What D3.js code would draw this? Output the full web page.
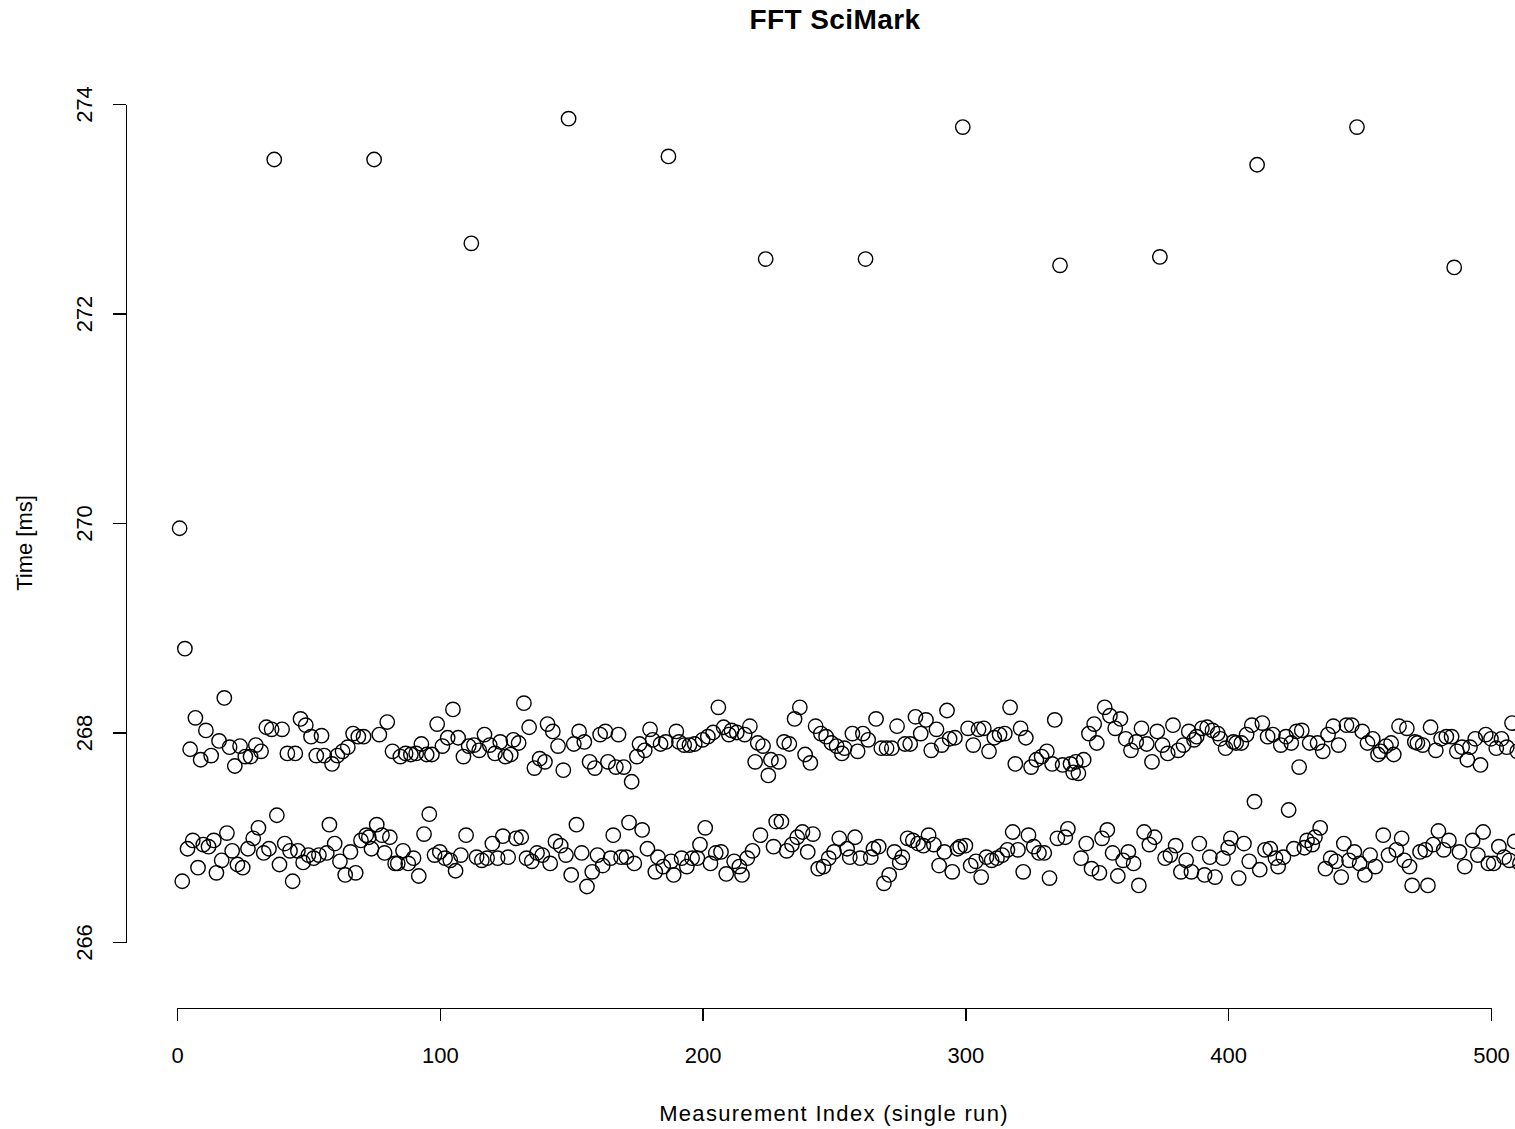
<!DOCTYPE html>
<html lang="en">
<head>
<meta charset="UTF-8">
<title>FFT SciMark</title>
<script src="https://d3js.org/d3.v7.min.js"></script>
<style>
    body {
        margin: 0;
        background: #ffffff;
        overflow: hidden;
    }

    svg text {
        font-family: "Liberation Sans", Arial, Helvetica, sans-serif;
        fill: #000;
    }

    .axis path,
    .axis line {
        stroke: #000;
        stroke-width: 1.3;
        shape-rendering: crispEdges;
    }

    .axis text {
        font-size: 22px;
    }

    .point {
        fill: none;
        stroke: #000;
        stroke-width: 1.4;
    }
</style>
</head>
<body>
<svg id="chart" width="1515" height="1129"></svg>
<script>
    // measured times [ms], one per run index (1..512)
    // written in blocks that end with the periodic spike
    const timeMs = [
        269.95, 266.58, 268.80, 266.89, 267.84, 266.97, 268.14, 266.71, 267.74, 266.93, 268.02, 266.91,
        267.78, 266.97, 266.66, 267.92, 266.78, 268.33, 267.04, 267.86, 266.87, 267.68, 266.74, 267.87,
        266.71, 267.77, 266.89, 267.77, 266.99, 267.88, 267.09, 267.82, 266.85, 268.05, 266.89, 268.03,
        273.47,
        267.21, 266.74, 268.03, 266.94, 267.80, 266.87, 266.58, 267.80, 266.87, 268.13, 266.76, 268.07,
        266.83, 267.96, 266.80, 267.78, 266.83, 267.97, 267.78, 266.85, 267.12, 267.70, 266.94, 267.78,
        266.77, 267.82, 266.64, 267.86, 266.86, 267.99, 266.66, 267.96, 266.97, 267.96, 267.02, 267.00,
        266.89,
        273.47,
        267.12, 267.98, 267.02, 266.85, 268.10, 267.00, 267.82, 266.75, 266.75, 267.77, 266.87, 267.80,
        266.75, 267.79, 266.80, 267.80, 266.63, 267.89, 267.03, 267.79, 267.22, 267.79, 266.83, 268.08,
        266.86, 267.87, 266.80, 267.95, 266.78, 268.22, 266.68, 267.95, 266.83, 267.77, 267.02, 267.87,
        272.67,
        267.88, 266.81, 267.83, 266.78, 267.98, 266.80, 267.88, 266.94, 267.80, 266.80, 267.91, 267.01,
        267.77, 266.81, 267.79, 267.93, 266.99, 267.90, 267.00, 268.28, 266.80, 268.05, 266.77, 267.66,
        266.85, 267.75, 266.83, 267.72, 268.08, 266.75, 268.01, 266.96, 267.87, 266.92, 267.64, 266.83,
        273.86,
        266.64, 267.89, 267.12, 268.01, 266.85, 267.91, 266.53, 267.72, 266.67, 267.66, 266.83, 267.98,
        266.73, 268.01, 267.72, 266.80, 267.02, 267.67, 267.98, 266.81, 267.67, 266.81, 267.14, 267.53,
        266.75, 267.77, 267.89, 267.07, 267.83, 266.89, 268.03, 267.93, 266.67, 266.81, 267.89, 266.72,
        267.91,
        273.50,
        266.77, 266.64, 268.01, 267.91, 266.80, 267.88, 266.72, 267.88, 266.80, 267.89, 266.80, 266.93,
        267.93, 267.09, 267.96, 266.75, 268.00, 266.85, 268.24, 266.86, 268.05, 266.65, 267.98, 268.02,
        266.77, 268.00, 266.72, 266.64, 267.98, 266.80, 268.06, 266.87, 267.72, 267.90, 267.02, 267.87,
        272.52,
        267.59, 267.74, 266.91, 267.15, 267.72, 267.15, 267.91, 266.87, 267.89, 266.93, 268.13, 267.00,
        268.24, 267.05, 267.79, 266.86, 267.71, 267.03, 268.06, 266.70, 267.99, 266.72, 267.96, 266.80,
        267.90, 266.86, 267.87, 266.99, 267.80, 267.85, 266.89, 266.81, 267.99, 267.00, 267.82, 266.80,
        267.99,
        272.52,
        267.93, 266.81, 266.89, 268.13, 266.91, 267.85, 266.56, 267.85, 266.64, 267.85, 266.86, 268.06,
        266.76, 266.81, 267.89, 266.99, 267.89, 266.97, 268.15, 266.94, 267.99, 266.92, 268.12, 267.02,
        267.83, 266.93, 268.03, 266.73, 267.88, 266.86, 268.21, 267.94, 266.67, 267.95, 266.89, 266.91,
        273.78,
        266.92, 268.04, 266.73, 267.88, 266.77, 268.03, 266.62, 268.04, 266.81, 267.82, 266.78, 267.95,
        266.80, 267.98, 266.83, 267.99, 266.88, 268.24, 267.05, 267.70, 266.88, 268.04, 266.67, 267.95,
        267.02, 267.67, 266.91, 267.74, 266.85, 267.77, 266.85, 267.82, 266.61, 267.70, 268.12, 266.99,
        272.46,
        267.69, 267.00, 267.08, 267.70, 267.62, 267.72, 267.61, 266.80, 267.74, 266.94, 267.99, 266.70,
        268.08, 267.90, 266.66, 266.99, 268.24, 267.07, 268.16, 266.85, 268.04, 266.63, 268.13, 266.78,
        267.94, 266.86, 267.83, 266.75, 267.91, 266.54, 268.04, 267.05, 267.89, 266.93, 267.72, 267.00,
        268.01,
        272.54,
        267.88, 266.80, 267.80, 266.83, 268.07, 266.92, 267.83, 266.67, 267.88, 266.78, 268.01, 266.67,
        267.93, 267.96, 266.94, 268.04, 266.64, 268.05, 266.81, 268.02, 266.62, 267.99, 267.94, 266.80,
        267.85, 266.90, 266.99, 267.91, 267.90, 266.61, 267.90, 266.94, 267.98, 266.77, 268.07, 267.34,
        273.42,
        266.69, 268.09, 266.88, 267.96, 266.89, 267.98, 266.80, 266.72, 267.88, 266.81, 267.96, 267.26,
        267.90, 266.89, 268.01, 267.67, 268.02, 266.90, 266.97, 267.90, 266.93, 267.00, 267.90, 267.09,
        267.82, 266.70, 267.98, 266.80, 268.06, 266.77, 267.88, 266.62, 266.94, 268.07, 266.78, 268.07,
        266.86,
        273.78,
        266.75, 268.01, 266.64, 267.90, 266.83, 267.94, 266.72, 267.79, 267.82, 267.02, 267.87, 266.83,
        267.90, 267.79, 266.88, 268.06, 266.99, 266.78, 268.04, 266.72, 266.54, 267.91, 267.90, 266.86,
        267.88, 266.88, 266.54, 268.05, 266.93, 267.83, 267.06, 267.94, 266.88, 267.96, 266.97, 267.96,
        272.44,
        267.82, 266.86, 267.86, 266.72, 267.74, 267.86, 266.97, 267.94, 266.83, 267.69, 267.05, 267.98,
        266.75, 267.94, 266.75, 267.85, 266.91, 267.94, 266.81, 267.86, 266.78, 268.09, 266.96, 267.82,
        266.75, 266.80
    ];

    const xTicks = [0, 100, 200, 300, 400, 500];
    const yTicks = [266, 268, 270, 272, 274];

    const chartTitle = "FFT SciMark";
    const xTitle = "Measurement Index (single run)";
    const yTitle = "Time [ms]";

    const svg = d3.select("#chart");

    const x = d3.scaleLinear().domain([0, 500]).range([177, 1491]);
    const y = d3.scaleLinear().domain([266, 274]).range([942, 104]);

    const xAxisY = 1008;
    const yAxisX = 126;

    // x axis (R style: line only spans first..last tick)
    svg.append("g")
        .attr("class", "axis")
        .attr("transform", `translate(0,${xAxisY})`)
        .call(d3.axisBottom(x).tickValues(xTicks).tickFormat(d3.format("d"))
            .tickSize(13).tickSizeOuter(0).tickPadding(26));

    // y axis with labels turned parallel to the axis
    const yAxis = svg.append("g")
        .attr("class", "axis")
        .attr("transform", `translate(${yAxisX},0)`)
        .call(d3.axisLeft(y).tickValues(yTicks).tickFormat(d3.format("d"))
            .tickSize(13).tickSizeOuter(0));

    yAxis.selectAll(".tick text")
        .attr("x", null)
        .attr("dy", null)
        .attr("text-anchor", "middle")
        .attr("transform", "translate(-34,0) rotate(-90)");

    // points
    svg.append("g")
        .selectAll("circle")
        .data(timeMs)
        .join("circle")
        .attr("class", "point")
        .attr("cx", (d, i) => x(i + 1))
        .attr("cy", d => y(d))
        .attr("r", 7.2);

    // titles
    svg.append("text")
        .attr("x", 835)
        .attr("y", 29)
        .attr("text-anchor", "middle")
        .style("font-size", "28px")
        .style("font-weight", "bold")
        .style("letter-spacing", "0.4px")
        .text(chartTitle);

    svg.append("text")
        .attr("x", 834)
        .attr("y", 1121)
        .attr("text-anchor", "middle")
        .style("font-size", "22px")
        .style("letter-spacing", "1.3px")
        .text(xTitle);

    svg.append("text")
        .attr("transform", "translate(32,543) rotate(-90)")
        .attr("text-anchor", "middle")
        .style("font-size", "22px")
        .text(yTitle);
</script>
</body>
</html>
